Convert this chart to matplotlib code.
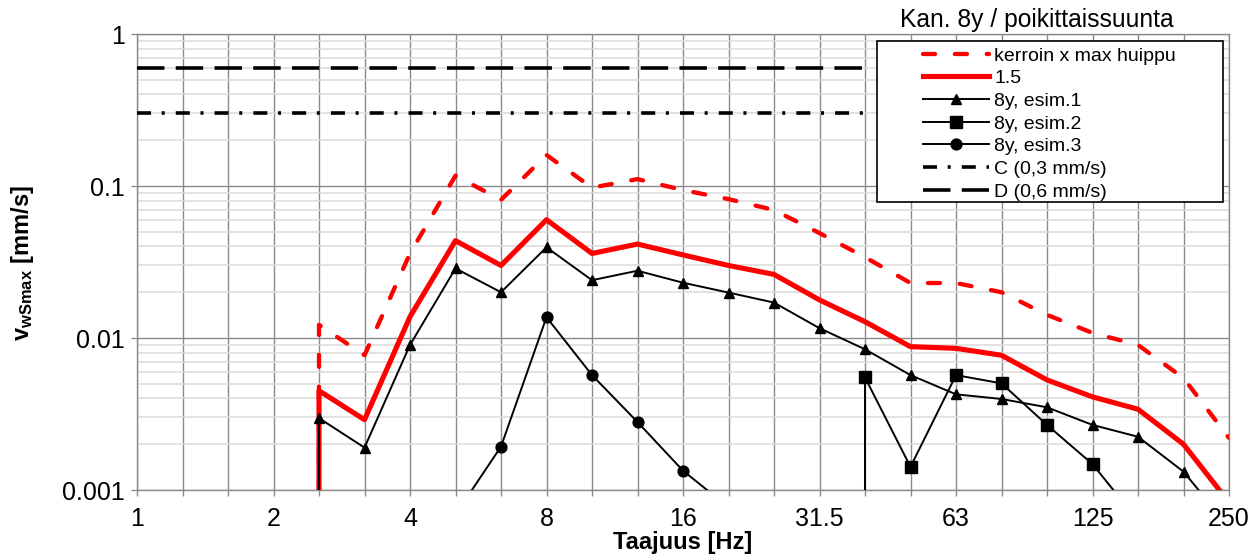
import numpy as np
import matplotlib
matplotlib.use("Agg")
import matplotlib.pyplot as plt
from matplotlib.patches import Rectangle
from matplotlib.ticker import FixedLocator, FixedFormatter, LogLocator, NullFormatter

plt.rcParams['font.family'] = ['Liberation Sans', 'DejaVu Sans']
plt.rcParams['mathtext.fontset'] = 'custom'
plt.rcParams['mathtext.rm'] = 'Liberation Sans'
plt.rcParams['mathtext.bf'] = 'Liberation Sans:bold'
plt.rcParams['mathtext.it'] = 'Liberation Sans:italic'

nan = np.nan

# third-octave bands (Hz)
bands = ['1', '1.25', '1.6', '2', '2.5', '3.15', '4', '5', '6.3', '8', '10', '12.5',
         '16', '20', '25', '31.5', '40', '50', '63', '80', '100', '125', '160', '200', '250']
shown_labels = ['1', '2', '4', '8', '16', '31.5', '63', '125', '250']

# series values (mm/s), one per band
kerroin = [nan, nan, nan, 0, 0.0122, 0.0077, 0.036, 0.117, 0.081, 0.160, 0.0975, 0.111,
           0.094, 0.082, 0.0695, 0.049, 0.034, 0.023, 0.023, 0.020, 0.0142, 0.0108, 0.0090, 0.00545, 0.0022]
k15 = [nan, nan, nan, 0, 0.0045, 0.0029, 0.0138, 0.0437, 0.030, 0.060, 0.036, 0.0415,
       0.0352, 0.030, 0.0262, 0.0178, 0.0128, 0.00877, 0.00855, 0.0077, 0.0053, 0.0041, 0.0034, 0.0020, 0.00083]
esim1 = [nan, nan, nan, 0, 0.00297, 0.0019, 0.0090, 0.0287, 0.020, 0.0395, 0.024, 0.0277,
         0.0231, 0.0199, 0.0171, 0.0116, 0.00843, 0.0057, 0.00426, 0.00397, 0.0035, 0.00268, 0.00224, 0.00132, 0.00057]
esim2 = [nan, nan, nan, nan, nan, nan, nan, nan, nan, nan, nan, nan,
         nan, nan, nan, 0, 0.0055, 0.00142, 0.0057, 0.00503, 0.00268, 0.00148, 0.00063, nan, nan]
esim3 = [nan, nan, nan, nan, nan, nan, nan, 0.00069, 0.00193, 0.0137, 0.0057, 0.0028,
         0.00134, 0.00077, nan, nan, nan, nan, nan, nan, nan, nan, nan, nan, nan]
level_C = [0.3] * 17 + [nan] * 8
level_D = [0.6] * 17 + [nan] * 8

labels = ['kerroin x max huippu', '1.5', '8y, esim.1', '8y, esim.2', '8y, esim.3',
          'C (0,3 mm/s)', 'D (0,6 mm/s)']

fig = plt.figure(figsize=(12.58, 5.57), dpi=100)
ax = fig.add_axes([137/1258, 1-490/557, (1229-137)/1258, (490-34)/557])
x = np.arange(len(bands))

ax.set_yscale('log', nonpositive='clip')

l1, = ax.plot(x, kerroin, color='#ff0000', lw=3.1, dashes=(2.8, 4.6), dash_capstyle='round',
              solid_capstyle='round', label=labels[0], zorder=3)
l2, = ax.plot(x, k15, color='#ff0000', lw=3.7, label=labels[1], zorder=3)
l3, = ax.plot(x, esim1, color='black', lw=1.4, marker='^', ms=7.6, label=labels[2], zorder=4)
l4, = ax.plot(x, esim2, color='black', lw=1.4, marker='s', ms=8.0, label=labels[3], zorder=4)
l5, = ax.plot(x, esim3, color='black', lw=1.4, marker='o', ms=7.8, label=labels[4], zorder=4)
l6, = ax.plot(x, level_C, color='black', lw=2.6, dashes=(3.88, 2.96, 0.83, 3.07),
              dash_capstyle='butt', label=labels[5], zorder=3)
l7, = ax.plot(x, level_D, color='black', lw=2.6, dashes=(7.6, 3.13),
              dash_capstyle='butt', label=labels[6], zorder=3)

ax.set_xlim(0, len(bands) - 1)
ax.set_ylim(0.001, 1)

gray = '#8a8a8a'
ax.set_xticks(x)
ax.set_xticklabels([b if b in shown_labels else '' for b in bands])
ax.yaxis.set_major_locator(FixedLocator([0.001, 0.01, 0.1, 1]))
ax.yaxis.set_major_formatter(FixedFormatter(['0.001', '0.01', '0.1', '1']))
ax.yaxis.set_minor_locator(LogLocator(base=10, subs=np.arange(2, 10)))
ax.yaxis.set_minor_formatter(NullFormatter())
ax.tick_params(axis='both', which='major', direction='out', length=4.5, width=1.0,
               color=gray, labelsize=18, labelcolor='black')
ax.tick_params(axis='x', which='major', pad=8)
ax.tick_params(axis='y', which='major', pad=4)
ax.tick_params(axis='y', which='minor', length=0)

ax.set_axisbelow(True)
ax.grid(which='major', axis='both', color=gray, lw=1.0)
ax.grid(which='minor', axis='y', color='#dadada', lw=1.1)
for s in ax.spines.values():
    s.set_color(gray)
    s.set_linewidth(1.0)

# legend box
bx0 = (876.7 - 137) / 1092
bx1 = (1223 - 137) / 1092
by0 = 1 - (201.7 - 34) / 456
by1 = 1 - (40.7 - 34) / 456
ax.add_patch(Rectangle((bx0, by0), bx1 - bx0, by1 - by0, transform=ax.transAxes,
                       facecolor='white', edgecolor='black', lw=1.2, zorder=5, clip_on=False))
leg = ax.legend(handles=[l1, l2, l3, l4, l5, l6, l7], loc='center',
                bbox_to_anchor=((bx0 + bx1) / 2, (by0 + by1) / 2 - 2.5 / 456),
                frameon=False, fontsize=14, handlelength=3.35, handletextpad=0.3,
                labelspacing=0.26, borderpad=0, borderaxespad=0)
leg.set_zorder(6)

fig.text(1037/1258, 1 - 19.5/557, 'Kan. 8y / poikittaissuunta', ha='center', va='center', fontsize=17.7)
fig.text(683/1258, 1 - 542/557, 'Taajuus [Hz]', ha='center', va='center', fontsize=17, fontweight='bold')
fig.text(23/1258, 1 - 263/557, r'$\mathbf{v}_{\mathbf{wSmax}}$ [mm/s]', ha='center', va='center',
         rotation=90, fontsize=17, fontweight='bold')

fig.savefig('out.png', dpi=100)
